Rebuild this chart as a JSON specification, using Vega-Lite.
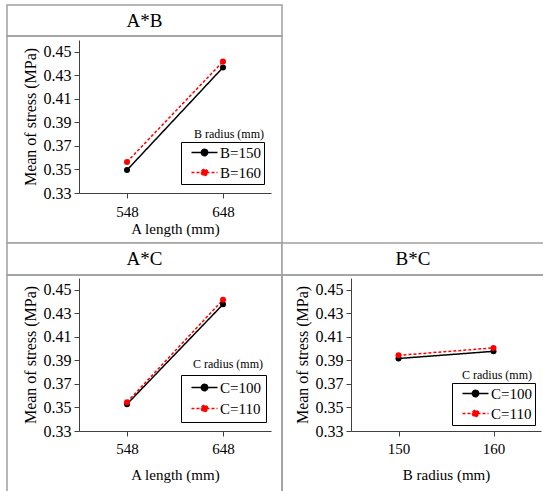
{
  "$schema": "https://vega.github.io/schema/vega-lite/v6.json",
  "padding": {"left": 6, "top": 4, "right": 0, "bottom": 0},
  "background": "white",
  "config": {
    "view": {"stroke": "#a0a0a0", "strokeWidth": 1.5},
    "font": "Times New Roman, Liberation Serif, DejaVu Serif, serif",
    "axis": {
      "labelFont": "Times New Roman, Liberation Serif, DejaVu Serif, serif", "titleFont": "Times New Roman, Liberation Serif, DejaVu Serif, serif",
      "labelFontSize": 15, "titleFontSize": 15, "titleFontWeight": "normal",
      "labelColor": "#000", "titleColor": "#000",
      "domainColor": "#404040", "tickColor": "#404040", "tickSize": 5, "grid": false
    },
    "axisY": {"labelFontSize": 16, "titleFontSize": 16},
    "legend": {
      "labelFont": "Times New Roman, Liberation Serif, DejaVu Serif, serif", "titleFont": "Times New Roman, Liberation Serif, DejaVu Serif, serif",
      "labelColor": "#000", "titleColor": "#000"
    },
    "text": {"font": "Times New Roman, Liberation Serif, DejaVu Serif, serif"}
  },
  "datasets": {
    "ab": [
      {"A": 548, "B": "B=150", "y": 0.3495},
      {"A": 648, "B": "B=150", "y": 0.4367},
      {"A": 548, "B": "B=160", "y": 0.3564},
      {"A": 648, "B": "B=160", "y": 0.4417}
    ],
    "ac": [
      {"A": 548, "C": "C=100", "y": 0.3528},
      {"A": 648, "C": "C=100", "y": 0.4376},
      {"A": 548, "C": "C=110", "y": 0.3545},
      {"A": 648, "C": "C=110", "y": 0.4415}
    ],
    "bc": [
      {"B": 150, "C": "C=100", "y": 0.3916},
      {"B": 160, "C": "C=100", "y": 0.3977},
      {"B": 150, "C": "C=110", "y": 0.3943},
      {"B": 160, "C": "C=110", "y": 0.4006}
    ],
    "tab": [{"t": "A*B"}],
    "tac": [{"t": "A*C"}],
    "tbc": [{"t": "B*C"}],
    "blank": [{"t": ""}]
  },
  "columns": 2,
  "spacing": 0,
  "bounds": "flush",
  "concat": [
    {
      "width": 275, "height": 31,
      "view": {"stroke": "#a0a0a0", "strokeWidth": 1.5, "fill": "white"},
      "data": {"name": "tab"},
      "mark": {"type": "text", "fontSize": 19, "color": "#000"},
      "encoding": {"text": {"field": "t"}}
    },
    {
      "width": 262, "height": 31,
      "view": {"stroke": null},
      "data": {"name": "blank"},
      "mark": {"type": "text", "fontSize": 1, "opacity": 0},
      "encoding": {"text": {"field": "t"}}
    },
    {
      "width": 275, "height": 207,
      "data": {"name": "ab"},
      "encoding": {
        "x": {"field": "A", "type": "ordinal",
              "scale": {"type": "point", "range": [72, 264], "padding": 0.5},
              "axis": {"title": "A length (mm)", "labelAngle": 0, "offset": -50, "labelPadding": 6, "titlePadding": 2}},
        "y": {"field": "y", "type": "quantitative",
              "scale": {"domain": [0.33, 0.46], "range": [157, 4], "nice": false, "zero": false},
              "axis": {"title": "Mean of stress (MPa)", "offset": -72, "values": [0.33, 0.35, 0.37, 0.39, 0.41, 0.43, 0.45], "format": ".2f", "labelPadding": 3, "titlePadding": 5}},
        "color": {"field": "B", "type": "nominal",
                  "scale": {"domain": ["B=150", "B=160"], "range": ["#000000", "#ff0000"]},
                  "legend": {"title": null, "orient": "none", "legendX": 174, "legendY": 106, "strokeColor": "#000", "padding": 3, "labelFontSize": 15, "rowPadding": 4, "labelOffset": 8, "symbolOffset": 13, "symbolType": "M-2.17,0H2.17M-0.53,0A0.53,0.53 0 1,0 0.53,0A0.53,0.53 0 1,0 -0.53,0", "symbolSize": 144, "symbolStrokeWidth": 1.5}}
      },
      "layer": [
        {"mark": {"type": "line", "strokeWidth": 1.5},
         "encoding": {"strokeDash": {"field": "B", "type": "nominal",
            "scale": {"domain": ["B=150", "B=160"], "range": [[1, 0], [3, 2]]},
            "legend": {"title": null, "orient": "none", "legendX": 174, "legendY": 106, "strokeColor": "#000", "padding": 3, "labelFontSize": 15, "rowPadding": 4, "labelOffset": 8, "symbolOffset": 13, "symbolType": "M-2.17,0H2.17M-0.53,0A0.53,0.53 0 1,0 0.53,0A0.53,0.53 0 1,0 -0.53,0", "symbolSize": 144, "symbolStrokeWidth": 1.5}}}},
        {"mark": {"type": "point", "filled": true, "size": 36, "opacity": 1}},
        {"mark": {"type": "point", "opacity": 0},
         "encoding": {"shape": {"datum": "B radius (mm)",
            "legend": {"title": "B radius (mm)", "orient": "none", "legendX": 187, "legendY": 93, "labelExpr": "''", "symbolOpacity": 0, "padding": 0, "titleFontSize": 12, "titleFontWeight": "normal"}}}}
      ]
    },
    {
      "width": 262, "height": 207,
      "view": {"stroke": null},
      "data": {"name": "blank"},
      "mark": {"type": "text", "fontSize": 1, "opacity": 0},
      "encoding": {"text": {"field": "t"}}
    },
    {
      "width": 275, "height": 32,
      "view": {"stroke": "#a0a0a0", "strokeWidth": 1.5, "fill": "white"},
      "data": {"name": "tac"},
      "mark": {"type": "text", "fontSize": 19, "color": "#000"},
      "encoding": {"text": {"field": "t"}}
    },
    {
      "width": 262, "height": 32,
      "view": {"stroke": "#a0a0a0", "strokeWidth": 1.5, "fill": "white"},
      "data": {"name": "tbc"},
      "mark": {"type": "text", "fontSize": 19, "color": "#000"},
      "encoding": {"text": {"field": "t"}}
    },
    {
      "width": 275, "height": 217,
      "data": {"name": "ac"},
      "encoding": {
        "x": {"field": "A", "type": "ordinal",
              "scale": {"type": "point", "range": [72, 264], "padding": 0.5},
              "axis": {"title": "A length (mm)", "labelAngle": 0, "offset": -61, "labelPadding": 5, "titlePadding": 11}},
        "y": {"field": "y", "type": "quantitative",
              "scale": {"domain": [0.33, 0.46], "range": [156, 3], "nice": false, "zero": false},
              "axis": {"title": "Mean of stress (MPa)", "offset": -72, "values": [0.33, 0.35, 0.37, 0.39, 0.41, 0.43, 0.45], "format": ".2f", "labelPadding": 3, "titlePadding": 5}},
        "color": {"field": "C", "type": "nominal",
                  "scale": {"domain": ["C=100", "C=110"], "range": ["#000000", "#ff0000"]},
                  "legend": {"title": null, "orient": "none", "legendX": 174, "legendY": 100, "strokeColor": "#000", "padding": 5, "labelFontSize": 15, "rowPadding": 5, "labelOffset": 8, "symbolOffset": 11, "symbolType": "M-2.17,0H2.17M-0.53,0A0.53,0.53 0 1,0 0.53,0A0.53,0.53 0 1,0 -0.53,0", "symbolSize": 144, "symbolStrokeWidth": 1.5}}
      },
      "layer": [
        {"mark": {"type": "line", "strokeWidth": 1.5},
         "encoding": {"strokeDash": {"field": "C", "type": "nominal",
            "scale": {"domain": ["C=100", "C=110"], "range": [[1, 0], [3, 2]]},
            "legend": {"title": null, "orient": "none", "legendX": 174, "legendY": 100, "strokeColor": "#000", "padding": 5, "labelFontSize": 15, "rowPadding": 5, "labelOffset": 8, "symbolOffset": 11, "symbolType": "M-2.17,0H2.17M-0.53,0A0.53,0.53 0 1,0 0.53,0A0.53,0.53 0 1,0 -0.53,0", "symbolSize": 144, "symbolStrokeWidth": 1.5}}}},
        {"mark": {"type": "point", "filled": true, "size": 36, "opacity": 1}},
        {"mark": {"type": "point", "opacity": 0},
         "encoding": {"shape": {"datum": "C radius (mm)",
            "legend": {"title": "C radius (mm)", "orient": "none", "legendX": 186, "legendY": 84, "labelExpr": "''", "symbolOpacity": 0, "padding": 0, "titleFontSize": 12, "titleFontWeight": "normal"}}}}
      ]
    },
    {
      "width": 262, "height": 217,
      "data": {"name": "bc"},
      "encoding": {
        "x": {"field": "B", "type": "ordinal",
              "scale": {"type": "point", "range": [69, 259], "padding": 0.5},
              "axis": {"title": "B radius (mm)", "labelAngle": 0, "offset": -61, "labelPadding": 5, "titlePadding": 11}},
        "y": {"field": "y", "type": "quantitative",
              "scale": {"domain": [0.33, 0.46], "range": [156, 3], "nice": false, "zero": false},
              "axis": {"title": "Mean of stress (MPa)", "offset": -69, "values": [0.33, 0.35, 0.37, 0.39, 0.41, 0.43, 0.45], "format": ".2f", "labelPadding": 3, "titlePadding": 5}},
        "color": {"field": "C", "type": "nominal",
                  "scale": {"domain": ["C=100", "C=110"], "range": ["#000000", "#ff0000"]},
                  "legend": {"title": null, "orient": "none", "legendX": 170, "legendY": 108, "strokeColor": "#000", "padding": 3, "labelFontSize": 15, "rowPadding": 4, "labelOffset": 8, "symbolOffset": 13, "symbolType": "M-2.17,0H2.17M-0.53,0A0.53,0.53 0 1,0 0.53,0A0.53,0.53 0 1,0 -0.53,0", "symbolSize": 144, "symbolStrokeWidth": 1.5}}
      },
      "layer": [
        {"mark": {"type": "line", "strokeWidth": 1.5},
         "encoding": {"strokeDash": {"field": "C", "type": "nominal",
            "scale": {"domain": ["C=100", "C=110"], "range": [[1, 0], [3, 2]]},
            "legend": {"title": null, "orient": "none", "legendX": 170, "legendY": 108, "strokeColor": "#000", "padding": 3, "labelFontSize": 15, "rowPadding": 4, "labelOffset": 8, "symbolOffset": 13, "symbolType": "M-2.17,0H2.17M-0.53,0A0.53,0.53 0 1,0 0.53,0A0.53,0.53 0 1,0 -0.53,0", "symbolSize": 144, "symbolStrokeWidth": 1.5}}}},
        {"mark": {"type": "point", "filled": true, "size": 36, "opacity": 1}},
        {"mark": {"type": "point", "opacity": 0},
         "encoding": {"shape": {"datum": "C radius (mm)",
            "legend": {"title": "C radius (mm)", "orient": "none", "legendX": 180, "legendY": 95, "labelExpr": "''", "symbolOpacity": 0, "padding": 0, "titleFontSize": 12, "titleFontWeight": "normal"}}}}
      ]
    }
  ],
  "resolve": {"scale": {"x": "independent", "y": "independent", "color": "independent", "strokeDash": "independent", "shape": "independent"}, "legend": {"color": "independent", "strokeDash": "independent", "shape": "independent"}}
}
